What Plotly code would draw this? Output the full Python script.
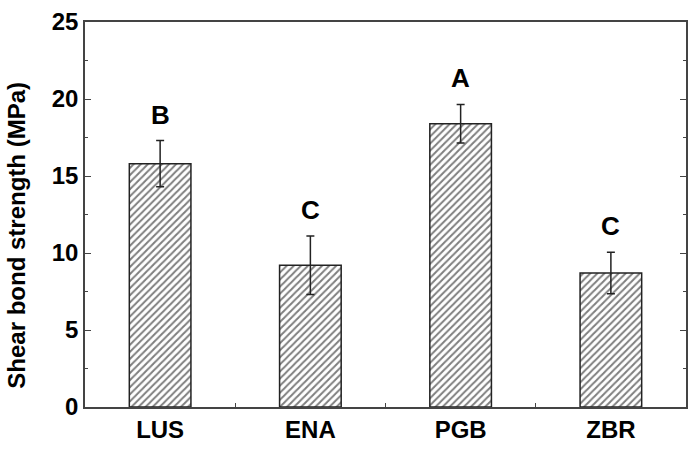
import plotly.graph_objects as go

categories = ["LUS", "ENA", "PGB", "ZBR"]
means = [15.8, 9.2, 18.4, 8.7]
errors = [1.5, 1.9, 1.25, 1.35]
letters = ["B", "C", "A", "C"]

FONT = "Liberation Sans"

fig = go.Figure()
fig.add_trace(go.Bar(
    x=categories, y=means, width=0.41,
    marker=dict(
        color="white",
        line=dict(color="#222", width=1.5),
        pattern=dict(shape="/", fgcolor="black", bgcolor="white", size=5, solidity=0.4),
    ),
    error_y=dict(type="data", array=errors, color="#222", thickness=1.5, width=4),
    showlegend=False,
))

for c, m, e, t in zip(categories, means, errors, letters):
    fig.add_annotation(x=c, y=m + e, text=t, showarrow=False, yanchor="bottom", yshift=9,
                       font=dict(family=FONT, size=26, color="black", weight="bold"))

# y-axis title placed as a rotated annotation (sits slightly below centre in the reference)
fig.add_annotation(xref="paper", yref="paper", x=0, y=0.445, xshift=-68, textangle=-90,
                   text="Shear bond strength (MPa)", showarrow=False, xanchor="center", yanchor="middle",
                   font=dict(family=FONT, size=24, color="black", weight="bold"))

fig.update_layout(
    width=696, height=451,
    margin=dict(l=85, r=8, t=16, b=39),
    paper_bgcolor="white", plot_bgcolor="white",
    bargap=0.59,
)
fig.update_xaxes(
    range=[-0.5, 3.5], showline=True, linecolor="#444", linewidth=1.5, mirror=True,
    ticks="inside", ticklen=4, tickcolor="#444", tickson="boundaries",
    tickfont=dict(family=FONT, size=24, color="black", weight="bold"),
    showgrid=False, zeroline=False,
)
fig.update_yaxes(
    range=[0, 25], dtick=5, showline=True, linecolor="#444", linewidth=1.5, mirror="ticks",
    ticks="inside", ticklen=6, tickcolor="#444",
    minor=dict(dtick=2.5, ticks="inside", ticklen=3, tickcolor="#444"),
    tickfont=dict(family=FONT, size=24, color="black", weight="bold"),
    showgrid=False, zeroline=False,
)

fig.write_html("out.html")
